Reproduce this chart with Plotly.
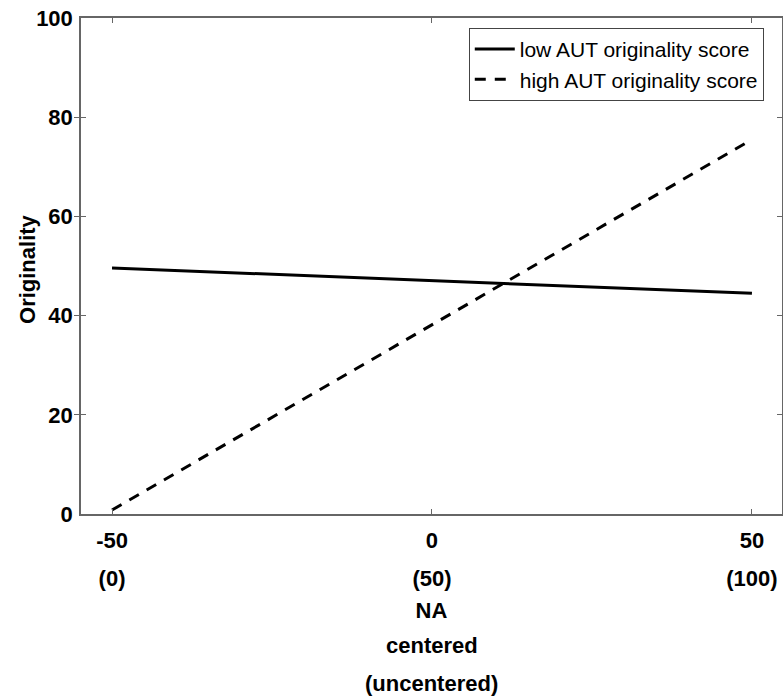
import plotly.graph_objects as go

# Data
x_vals = [-50, 50]
low_aut = [49.6, 44.5]
high_aut = [0.8, 75.5]
series_names = ["low AUT originality score", "high AUT originality score"]
x_tick_vals = [-50, 0, 50]
x_tick_centered = ["-50", "0", "50"]
x_tick_uncentered = ["(0)", "(50)", "(100)"]
y_tick_vals = [0, 20, 40, 60, 80, 100]

FONT = "Liberation Sans, Arial, sans-serif"
AXCOL = "#666666"
XR = [-54.85, 54.7]

fig = go.Figure()
fig.add_trace(go.Scatter(x=x_vals, y=low_aut, mode="lines", name=series_names[0],
                         line=dict(color="black", width=3)))
fig.add_trace(go.Scatter(x=x_vals, y=high_aut, mode="lines", name=series_names[1],
                         line=dict(color="black", width=3, dash="11px,9px")))
# invisible trace to activate the secondary x axis (uncentered labels)
fig.add_trace(go.Scatter(x=x_vals, y=low_aut, xaxis="x2", mode="lines",
                         line=dict(width=0), opacity=0, showlegend=False, hoverinfo="skip"))

fig.update_layout(
    width=783, height=696,
    margin=dict(l=81, r=1, t=18, b=182, autoexpand=False),
    plot_bgcolor="white", paper_bgcolor="white",
    font=dict(family=FONT, color="black"),
    showlegend=True,
    legend=dict(x=0.974, y=0.98, xanchor="right", yanchor="top",
                bgcolor="white", bordercolor="#444444", borderwidth=1,
                font=dict(family=FONT, size=21, color="black"),
                tracegroupgap=0, itemwidth=40),
    xaxis=dict(range=XR, tickmode="array", tickvals=x_tick_vals, ticktext=x_tick_centered,
               ticks="inside", ticklen=5, tickcolor=AXCOL, showline=True, linecolor=AXCOL,
               linewidth=1.5, mirror="allticks", showgrid=False, zeroline=False,
               automargin=False, ticklabeloverflow="allow",
               tickfont=dict(family=FONT, size=22, color="black", weight="bold"),
               ticklabelstandoff=6,
               title=dict(text="<b>NA</b>", font=dict(family=FONT, size=22, color="black"),
                          standoff=50)),
    xaxis2=dict(range=XR, overlaying="x", side="bottom", anchor="y", tickmode="array",
                tickvals=x_tick_vals, ticktext=x_tick_uncentered, ticks="",
                showline=False, showgrid=False, zeroline=False, automargin=False,
                ticklabeloverflow="allow",
                tickfont=dict(family=FONT, size=22, color="black", weight="bold"),
                ticklabelstandoff=49),
    yaxis=dict(range=[0, 100], tickmode="array", tickvals=y_tick_vals,
               ticks="inside", ticklen=5, tickcolor=AXCOL, showline=True, linecolor=AXCOL,
               linewidth=1.5, mirror="allticks", showgrid=False, zeroline=False,
               automargin=False, ticklabeloverflow="allow",
               tickfont=dict(family=FONT, size=22, color="black", weight="bold"),
               ticklabelstandoff=2),
)

fig.add_annotation(text="<b>Originality</b>", xref="paper", yref="paper", x=-0.0756, y=0.494,
                   textangle=-90, showarrow=False, font=dict(family=FONT, size=22, color="black"),
                   xanchor="center", yanchor="middle")
fig.add_annotation(text="<b>centered</b>", xref="paper", yref="paper", x=0.5, y=-0.266,
                   showarrow=False, font=dict(family=FONT, size=22, color="black"),
                   xanchor="center", yanchor="middle")
fig.add_annotation(text="<b>(uncentered)</b>", xref="paper", yref="paper", x=0.5, y=-0.341,
                   showarrow=False, font=dict(family=FONT, size=22, color="black"),
                   xanchor="center", yanchor="middle")

fig.write_html("out.html", config={"displayModeBar": False},
               post_script="document.body.style.margin='0';")
